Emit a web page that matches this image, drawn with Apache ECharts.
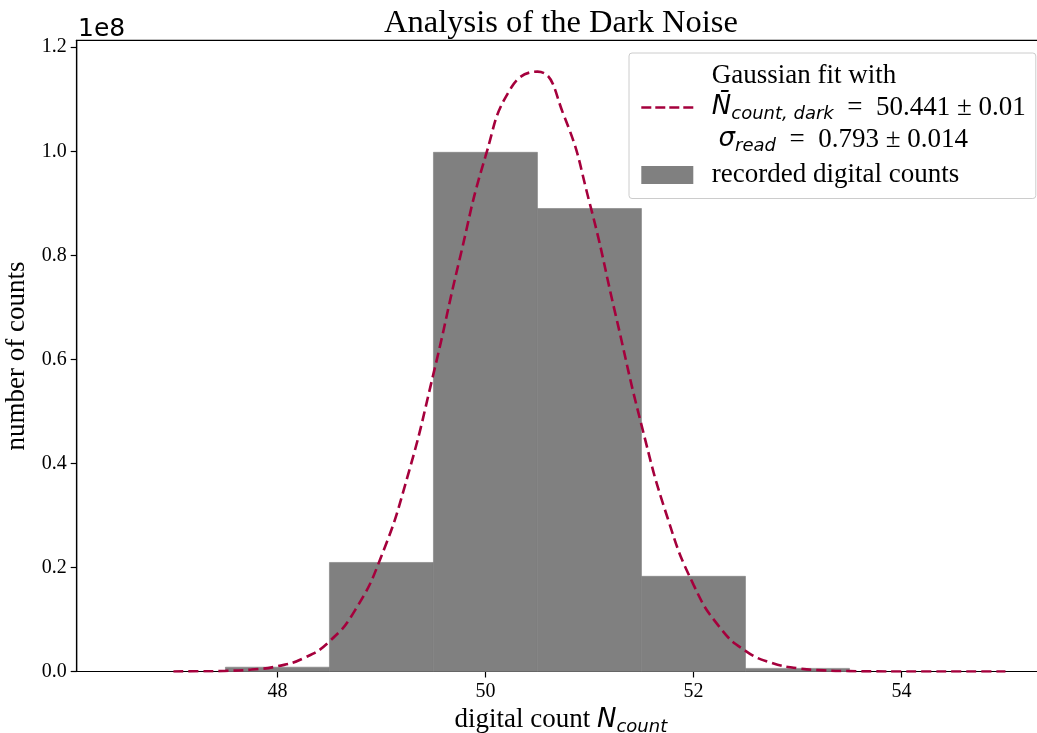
<!DOCTYPE html>
<html>
<head>
<meta charset="utf-8">
<script src="https://cdn.jsdelivr.net/npm/echarts@6/dist/echarts.min.js"></script>
<style>html,body{margin:0;padding:0;background:#fff;}#c{width:1037px;height:733px;}</style>
</head>
<body>
<div id="c"></div>
<script>
// Histogram bins (left/right edges) and counts (units of 1e8)
const binLeft  = [47.5, 48.5, 49.5, 50.5, 51.5, 52.5];
const binRight = [48.5, 49.5, 50.5, 51.5, 52.5, 53.5];
const binCount = [0.0083, 0.2096, 0.998, 0.890, 0.183, 0.006];
const fitX = [47, 47.25, 47.5, 47.75, 48, 48.25, 48.5, 48.75, 49, 49.25, 49.5, 49.75, 50, 50.25, 50.5, 50.75, 51, 51.25, 51.5, 51.75, 52, 52.25, 52.5, 52.75, 53, 53.25, 53.5, 53.75, 54, 54.25, 54.5, 54.75, 55];
const fitY = [0.0001, 0.0004, 0.0012, 0.0037, 0.0101, 0.0254, 0.0578, 0.119, 0.222, 0.374, 0.572, 0.791, 0.990, 1.123, 1.153, 1.071, 0.902, 0.687, 0.474, 0.296, 0.167, 0.0857, 0.0397, 0.0167, 0.0063, 0.0022, 0.0007, 0.0002, 0.0001, 0, 0, 0, 0];
const xTicks = [48, 50, 52, 54];
const yTicks = [0.0, 0.2, 0.4, 0.6, 0.8, 1.0, 1.2];
const SCALE = 1e8;

const serif = 'Liberation Serif';
const sans = 'DejaVu Sans';
const lineColor = '#a5003c';

const chart = echarts.init(document.getElementById('c'), null, {renderer: 'canvas'});

const barData = binLeft.map((l, i) => [l, binRight[i], binCount[i] * SCALE]);
const fitData = fitX.map((x, i) => [x, fitY[i] * SCALE]);

const rich = {
  t: {fontFamily: serif, fontSize: 27, lineHeight: 32, color: '#000'},
  m: {fontFamily: sans, fontStyle: 'italic', fontSize: 26, lineHeight: 32, color: '#000'},
  s: {fontFamily: sans, fontStyle: 'italic', fontSize: 18, lineHeight: 32, color: '#000', padding: [14, 0, 0, 0]}
};

chart.setOption({
  animation: false,
  backgroundColor: '#fff',
  title: {
    text: 'Analysis of the Dark Noise',
    left: 556, top: 2, textAlign: 'center',
    textStyle: {fontFamily: serif, fontSize: 32.5, fontWeight: 'normal', color: '#000'}
  },
  grid: {
    left: 76.7, top: 40.3, right: -8, bottom: 61.5,
    outerBoundsMode: 'none', containLabel: false,
    show: true, borderColor: '#000', borderWidth: 1.2, backgroundColor: 'transparent'
  },
  legend: {
    orient: 'vertical',
    left: 629, top: 53,
    padding: [9, 10, 10, 11],
    itemGap: 6,
    itemWidth: 52, itemHeight: 18,
    borderColor: '#cccccc', borderWidth: 1, borderRadius: 3,
    backgroundColor: 'rgba(255,255,255,0.8)',
    textStyle: {rich: rich},
    data: [
      {name: 'fit', icon: 'inherit',
       itemStyle: {color: 'rgba(255,255,255,0)', borderColor: 'rgba(255,255,255,0)', borderWidth: 0},
       lineStyle: {color: lineColor, width: 2.6, type: [10, 4]}},
      {name: 'hist', icon: 'rect'}
    ],
    formatter: function (name) {
      if (name === 'fit') {
        return '{t|  Gaussian fit with}\n' +
               '{t|  }{m|N\u0304}{s|count, dark}{t|\u2002=\u200250.441 \u00b1 0.01}\n' +
               '{t|   }{m|\u03c3}{s|read}{t|\u2002=\u20020.793 \u00b1 0.014}';
      }
      return '{t|  recorded digital counts}';
    }
  },
  xAxis: {
    type: 'value', min: 46.07, max: 55.38,
    name: '{t|digital count }{m|N}{s|count}',
    nameLocation: 'middle', nameGap: 32,
    nameTextStyle: {rich: {
      t: {fontFamily: serif, fontSize: 27, color: '#000'},
      m: {fontFamily: sans, fontStyle: 'italic', fontSize: 26, color: '#000'},
      s: {fontFamily: sans, fontStyle: 'italic', fontSize: 18, color: '#000', padding: [14, 0, 0, 0]}
    }},
    splitLine: {show: false},
    axisLine: {show: true, onZero: false, lineStyle: {color: '#000', width: 1.2}},
    axisTick: {show: true, length: 6, customValues: xTicks, lineStyle: {color: '#000', width: 1.2}},
    axisLabel: {customValues: xTicks, color: '#000', fontFamily: serif, fontSize: 20, margin: 10}
  },
  yAxis: {
    type: 'value', min: 0, max: 1.2133 * SCALE,
    name: 'number of counts',
    nameLocation: 'middle', nameGap: 42, nameRotate: 90,
    nameTextStyle: {fontFamily: serif, fontSize: 27, color: '#000'},
    splitLine: {show: false},
    axisLine: {show: true, lineStyle: {color: '#000', width: 1.2}},
    axisTick: {show: true, length: 6, customValues: yTicks.map(v => v * SCALE), lineStyle: {color: '#000', width: 1.2}},
    axisLabel: {
      customValues: yTicks.map(v => v * SCALE),
      color: '#000', fontFamily: serif, fontSize: 20, margin: 10,
      formatter: v => (v / SCALE).toFixed(1)
    }
  },
  graphic: [{
    type: 'text', left: 78, top: 17,
    style: {text: '1e8', font: '25px "DejaVu Sans"', fill: '#000'}
  }],
  series: [
    {
      name: 'hist', type: 'custom',
      data: barData,
      encode: {x: [0, 1], y: 2},
      itemStyle: {color: '#808080'},
      renderItem: function (params, api) {
        const p0 = api.coord([api.value(0), 0]);
        const p1 = api.coord([api.value(1), api.value(2)]);
        return {
          type: 'rect',
          shape: {x: p0[0], y: p1[1], width: p1[0] - p0[0], height: p0[1] - p1[1]},
          style: {fill: '#808080', stroke: '#808080', lineWidth: 0.6}
        };
      },
      z: 1
    },
    {
      name: 'fit', type: 'line',
      data: fitData, smooth: true, showSymbol: false, symbol: 'none',
      lineStyle: {color: lineColor, width: 2.6, type: [10, 5]},
      itemStyle: {color: lineColor},
      z: 3
    }
  ]
});
</script>
</body>
</html>
